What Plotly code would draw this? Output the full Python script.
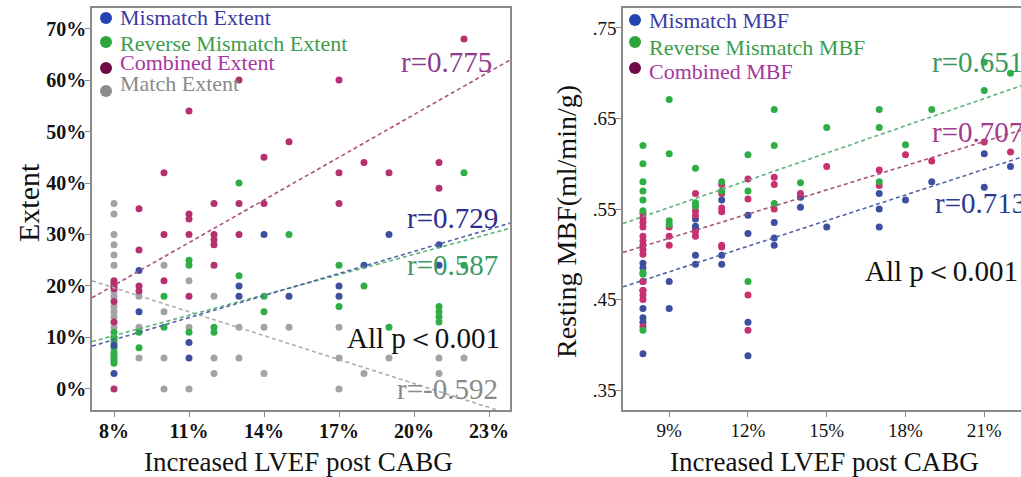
import plotly.graph_objects as go

W, H = 1021, 477

# ---------------- Left panel data (Increased LVEF %, Extent %) ----------------
mis_ext_x = [8, 8, 9, 9, 11, 11, 13, 13, 14, 15, 17, 17, 18, 19, 21, 21]
mis_ext_y = [3, 8.5, 23, 15, 9, 6, 20, 18, 30, 18, 20, 18, 24, 30, 28, 24]

rev_ext_x = [8, 8, 8, 8, 8, 8, 8, 8, 8, 9, 9, 10, 10, 11, 11, 11, 12, 12, 13, 13,
             14, 14, 15, 17, 17, 18, 19, 21, 21, 21, 21, 22, 22]
rev_ext_y = [11, 10, 9.5, 8, 7, 6.5, 6, 5.5, 5, 11, 8, 18, 12, 25, 24, 11, 12, 11, 40, 22,
             18, 15, 30, 24, 16, 20, 12, 16, 15, 14, 13, 42, 24]

com_ext_x = [8, 8, 8, 8, 8, 8, 8, 9, 9, 9, 9, 10, 10, 10, 11, 11, 11, 11, 11,
             12, 12, 12, 12, 12, 13, 13, 13, 14, 14, 15, 17, 17, 17, 18, 19, 21, 21, 22]
com_ext_y = [21, 20.5, 20, 19.5, 17, 13, 0, 35, 27, 20, 19, 42, 30, 21, 54, 34, 33, 30, 18,
             36, 30, 29, 28, 24, 60, 36, 30, 45, 36, 48, 60, 42, 36, 44, 42, 44, 39, 68]

mat_ext_x = [8, 8, 8, 8, 8, 8, 8, 8, 8, 8, 8, 8, 8, 8, 9, 9, 9, 10, 10, 10, 10,
             11, 11, 11, 12, 12, 12, 13, 13, 14, 14, 15, 17, 17, 17, 18, 19, 21, 21, 22]
mat_ext_y = [36, 34, 30, 28, 26, 24, 19, 18, 16, 15, 14, 12, 10, 9, 18, 12, 6, 24, 15, 6, 0,
             21, 12, 0, 18, 6, 3, 12, 6, 12, 3, 12, 12, 6, 0, 3, 6, 6, 3, 6]

# regression lines (endpoints)
fit_x_left = [7.12, 23.84]
fit_com_ext = [17.7, 63.9]
fit_mis_ext = [8.3, 32.2]
fit_rev_ext = [9.2, 31.2]
fit_mat_ext = [21.0, -4.9]

# ---------------- Right panel data (Increased LVEF %, resting MBF) ----------------
mis_mbf_x = [8, 8, 8, 8, 8, 8, 8, 8, 9, 9, 10, 10, 10, 10, 10, 11, 11, 11,
             12, 12, 12, 12, 13, 13, 13, 14, 14, 15, 17, 17, 17, 18, 19, 21, 21, 22]
mis_mbf_y = [.49, .485, .47, .46, .44, .43, .425, .39, .47, .44, .539, .531, .528, .499, .489,
             .56, .499, .489, .543, .523, .425, .388, .535, .518, .51, .563, .552, .53,
             .567, .55, .53, .56, .58, .611, .574, .597]

rev_mbf_x = [8, 8, 8, 8, 8, 8, 8, 8, 8, 9, 9, 9, 9, 10, 10, 10, 11, 11, 12, 12, 12,
             13, 13, 13, 14, 15, 17, 17, 17, 18, 19, 21, 21, 22]
rev_mbf_y = [.62, .60, .58, .57, .56, .548, .48, .478, .416, .671, .611, .537, .533,
             .595, .557, .553, .58, .57, .61, .57, .47, .66, .62, .556, .579, .64,
             .66, .64, .58, .621, .66, .712, .681, .70]

com_mbf_x = [8, 8, 8, 8, 8, 8, 8, 8, 8, 8, 8, 8, 8, 8, 9, 9, 9, 10, 10, 10, 10, 10,
             11, 11, 11, 11, 11, 11, 12, 12, 12, 12, 13, 13, 13, 14, 15, 17, 17, 18, 19, 21, 22]
com_mbf_y = [.545, .54, .535, .53, .52, .515, .51, .505, .50, .47, .46, .455, .45, .42,
             .53, .52, .51, .567, .548, .543, .525, .52, .577, .567, .551, .547, .51, .508,
             .583, .561, .455, .416, .585, .577, .55, .567, .597, .593, .576, .61, .603, .624, .613]

fit_x_right = [7.24, 22.4]
fit_rev_mbf = [.534, .686]
fit_com_mbf = [.502, .637]
fit_mis_mbf = [.464, .607]

left_xticks = [8, 11, 14, 17, 20, 23]
left_xticktext = ["8%", "11%", "14%", "17%", "20%", "23%"]
left_yticks = [0, 10, 20, 30, 40, 50, 60, 70]
left_yticktext = ["0%", "10%", "20%", "30%", "40%", "50%", "60%", "70%"]
right_xticks = [9, 12, 15, 18, 21]
right_xticktext = ["9%", "12%", "15%", "18%", "21%"]
right_yticks = [.35, .45, .55, .65, .75]
right_yticktext = [".35", ".45", ".55", ".65", ".75"]

# ---------------- styles ----------------
SERIF = "Liberation Serif, Times New Roman, serif"
C_BLUE, C_GREEN, C_MAG, C_GRAY = "#3d4f9e", "#2fae45", "#b4306f", "#a3a3a3"
L_BLUE, L_GREEN, L_MAG, L_GRAY = "#5462a6", "#5cb27a", "#a8527f", "#adadad"

fig = go.Figure()

def dots(x, y, color, xa, ya):
    fig.add_trace(go.Scatter(x=x, y=y, mode="markers", xaxis=xa, yaxis=ya,
                             marker=dict(size=7, color=color, line=dict(width=0)),
                             showlegend=False, hoverinfo="skip"))

def fitline(x, y, color, xa, ya):
    fig.add_trace(go.Scatter(x=x, y=y, mode="lines", xaxis=xa, yaxis=ya,
                             line=dict(color=color, width=1.6, dash="4px,3px"),
                             showlegend=False, hoverinfo="skip"))

# left panel
dots(mat_ext_x, mat_ext_y, C_GRAY, "x", "y")
dots(com_ext_x, com_ext_y, C_MAG, "x", "y")
dots(rev_ext_x, rev_ext_y, C_GREEN, "x", "y")
dots(mis_ext_x, mis_ext_y, C_BLUE, "x", "y")
fitline(fit_x_left, fit_com_ext, L_MAG, "x", "y")
fitline(fit_x_left, fit_mat_ext, L_GRAY, "x", "y")
fitline(fit_x_left, fit_rev_ext, L_GREEN, "x", "y")
fitline(fit_x_left, fit_mis_ext, L_BLUE, "x", "y")

# right panel
dots(mis_mbf_x, mis_mbf_y, C_BLUE, "x2", "y2")
dots(com_mbf_x, com_mbf_y, "#c8306f", "x2", "y2")
dots(rev_mbf_x, rev_mbf_y, C_GREEN, "x2", "y2")
fitline(fit_x_right, fit_rev_mbf, L_GREEN, "x2", "y2")
fitline(fit_x_right, fit_com_mbf, L_MAG, "x2", "y2")
fitline(fit_x_right, fit_mis_mbf, L_BLUE, "x2", "y2")

def px(x):
    return x / W

def py(y):
    return 1 - y / H

axis_common = dict(showgrid=False, zeroline=False, showline=True, linecolor="#8a8a8a",
                   linewidth=1.5, ticks="outside", ticklen=5, tickcolor="#8a8a8a",
                   tickmode="array")
BOLD_TICK = dict(family=SERIF, size=20, color="#111", weight="bold")
REG_TICK = dict(family=SERIF, size=19, color="#111")

fig.update_layout(
    width=W, height=H, margin=dict(l=0, r=0, t=0, b=0),
    paper_bgcolor="white", plot_bgcolor="white", showlegend=False,
    xaxis=dict(domain=[px(92), px(510)], range=[7.12, 23.84], tickvals=left_xticks,
               ticktext=left_xticktext, mirror=True, anchor="y", ticklabelstandoff=-3,
               tickfont=BOLD_TICK, **axis_common),
    yaxis=dict(domain=[py(410), py(8)], range=[-4.1, 74], tickvals=left_yticks,
               ticktext=left_yticktext, mirror=True, anchor="x", ticklabelstandoff=-5,
               tickfont=BOLD_TICK, **axis_common),
    xaxis2=dict(domain=[px(623), 1.0], range=[7.24, 22.4], tickvals=right_xticks,
                ticktext=right_xticktext, mirror=True, anchor="y2", ticklabelstandoff=-3,
                tickfont=REG_TICK, **axis_common),
    yaxis2=dict(domain=[py(410), py(8)], range=[0.328, 0.772], tickvals=right_yticks,
                ticktext=right_yticktext, mirror=False, anchor="x2", ticklabelstandoff=-4,
                tickfont=REG_TICK, **axis_common),
)

ann = []

def text(x, y, s, size, color, xanchor="center", angle=0, xref="paper", yref="paper"):
    ann.append(dict(x=x, y=y, xref=xref, yref=yref, text=s, showarrow=False,
                    xanchor=xanchor, yanchor="middle", textangle=angle,
                    font=dict(family=SERIF, size=size, color=color)))

# axis titles
text(px(298), py(462), "Increased LVEF post CABG", 27, "#111")
text(px(824), py(462), "Increased LVEF post CABG", 27, "#111")
text(px(28), py(203), "Extent", 30, "#111", angle=-90)
text(px(566), py(222), "Resting MBF(ml/min/g)", 28, "#111", angle=-90)

# left legend
leg_left = [("Mismatch Extent", "#3b3ba6", "#2443b0", 18, 18),
            ("Reverse Mismatch Extent", "#3c9d4a", "#2fa43c", 43, 42),
            ("Combined Extent", "#a8359f", "#6f0a45", 63, 68),
            ("Match Extent", "#8a8a8a", "#8c8c8c", 83, 91)]
shapes = []
for label, tcol, mcol, ty, my in leg_left:
    text(px(118), py(ty), label, 22, tcol, xanchor="left")
    shapes.append(dict(type="circle", xref="paper", yref="paper",
                       x0=px(100), x1=px(112), y0=py(my + 6), y1=py(my - 6),
                       fillcolor=mcol, line=dict(width=0)))

leg_right = [("Mismatch MBF", "#3b3ba6", "#2443b0", 21, 20),
             ("Reverse Mismatch MBF", "#3c9d4a", "#2fa43c", 47, 42),
             ("Combined MBF", "#a8359f", "#6f0a45", 72, 68)]
for label, tcol, mcol, ty, my in leg_right:
    text(px(647), py(ty), label, 22, tcol, xanchor="left")
    shapes.append(dict(type="circle", xref="paper", yref="paper",
                       x0=px(629), x1=px(641), y0=py(my + 6), y1=py(my - 6),
                       fillcolor=mcol, line=dict(width=0)))

# correlation annotations (left)
text(23.2, 63.5, "r=0.775", 29, "#8e3b8e", xanchor="right", xref="x", yref="y")
text(23.44, 33.2, "r=0.729", 29, "#2c2c8e", xanchor="right", xref="x", yref="y")
text(23.44, 24.1, "r=0.587", 29, "#3a9a66", xanchor="right", xref="x", yref="y")
text(23.52, 9.9, "All p＜0.001", 29, "#111", xanchor="right", xref="x", yref="y")
text(23.44, 0.0, "r=-0.592", 29, "#8a8a8a", xanchor="right", xref="x", yref="y")

# correlation annotations (right)
text(18.94, 0.712, "r=0.651", 29, "#3a9a66", xanchor="left", xref="x2", yref="y2")
text(18.94, 0.6345, "r=0.707", 29, "#a33c8e", xanchor="left", xref="x2", yref="y2")
text(19.06, 0.557, "r=0.713", 29, "#2c3a8e", xanchor="left", xref="x2", yref="y2")
text(16.39, 0.481, "All p＜0.001", 29, "#111", xanchor="left", xref="x2", yref="y2")

fig.update_layout(annotations=ann, shapes=shapes)
fig.write_html("out.html")
